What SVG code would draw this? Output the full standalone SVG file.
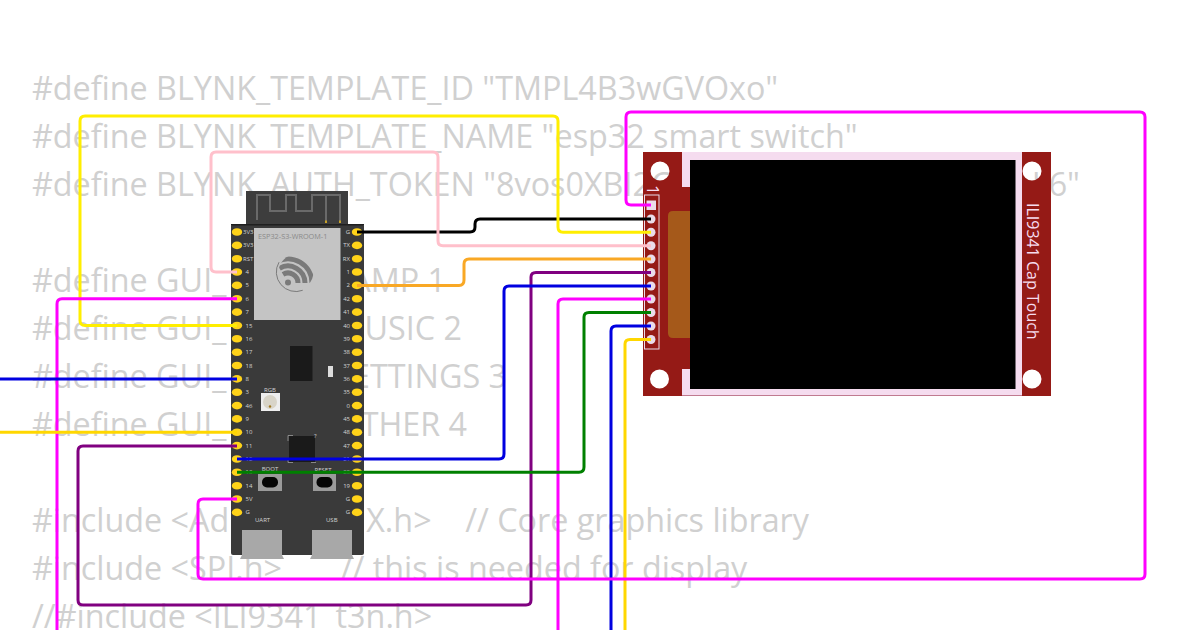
<svg xmlns="http://www.w3.org/2000/svg" width="1200" height="630" viewBox="0 0 1200 630">
<style>
.bg{font-family:"Open Sans","Noto Sans",sans-serif;font-size:32.3px;fill:#d0d0d0;white-space:pre}
.be{text-anchor:end}
.w{fill:none;stroke-width:3;stroke-linejoin:round}
.pin{fill:#ffd319}
.l{font-family:"Open Sans",sans-serif;font-size:6px;fill:#d4d4d4}
.e{text-anchor:end}
.m{text-anchor:middle}
.dp{fill:#eadcea}
</style>
<defs><clipPath id="logo-clip"><circle cx="296" cy="272" r="17.500"/></clipPath></defs>
<rect width="1200" height="630" fill="#fff"/>
<g id="source-text">
<text class="bg" x="32" y="100">#define BLYNK_TEMPLATE_ID "TMPL4B3wGVOxo"</text>
<text class="bg" x="32" y="148">#define BLYNK_TEMPLATE_NAME "esp32 smart switch"</text>
<text class="bg" x="32" y="196">#define BLYNK_AUTH_TOKEN "8vos0XBI2C</text>
<text class="bg be" x="1080" y="196">L6"</text>
<text class="bg" x="32" y="292">#define GUI_</text><text class="bg be" x="446" y="292">AMP 1</text>
<text class="bg" x="32" y="340">#define GUI_</text><text class="bg be" x="462" y="340">USIC 2</text>
<text class="bg" x="32" y="388">#define GUI_</text><text class="bg be" x="507" y="388">ETTINGS 3</text>
<text class="bg" x="32" y="436">#define GUI_</text><text class="bg be" x="467" y="436">THER 4</text>
<text class="bg" x="32" y="532">#include &lt;Ad</text><text class="bg be" x="809" y="532">X.h&gt;    // Core graphics library</text>
<text class="bg" x="32" y="580">#include &lt;SPI.h&gt;       // this is needed for display</text>
<text class="bg" x="32" y="628">//#include &lt;ILI9341_t3n.h&gt;</text>
</g>
<g id="esp32-board">
<rect x="246" y="191" width="102" height="36" fill="#3d3d3d"/>
<path d="M257 220V195H270V211H286V195H296V211H312V195H340V222M326 195V222" fill="none" stroke="#6a6a6a" stroke-width="2"/>
<path d="M325 220.500h2v2.500h-2zM339 220.500h2v2.500h-2z" fill="#c9a227"/>
<rect x="231" y="224" width="133" height="331" rx="2" fill="#3a3a3a"/>
<rect x="231" y="224" width="133" height="1.500" fill="#1f1f1f"/>
<rect x="254" y="228" width="86.500" height="92" fill="#c4c4c4"/>
<text x="258" y="239" font-family="Open Sans,sans-serif" font-size="7.300" fill="#8a8a8a">ESP32-S3-WROOM-1</text>
<path d="M279 262.200A19.500 19.500 0 0 0 302.700 290.300" fill="none" stroke="#7a7a7a" stroke-width="1"/>
<g clip-path="url(#logo-clip)" fill="none" stroke="#7a7a7a" stroke-width="5">
<path d="M283 274.300A10 10 0 0 1 298 283M279.500 268.300A17 17 0 0 1 305 283M276 262.200A24 24 0 0 1 312 283"/>
</g>
<circle cx="288" cy="282.500" r="3" fill="#7a7a7a"/>
<rect x="290" y="346" width="22.500" height="35" fill="#1a1a1a"/>
<rect x="328" y="366" width="5" height="11" fill="#ddd"/>
<text class="l m" x="270" y="392">RGB</text>
<rect x="261" y="393" width="19" height="18" fill="#eee"/>
<circle cx="270" cy="402" r="7" fill="#d8d4c8"/><circle cx="270" cy="406.500" r="1.200" fill="#a07820"/>
<rect x="289" y="436" width="26" height="26" fill="#1a1a1a"/>
<path d="M288 441V435.500H293M311 462.500H316M288 458V462.500H293" fill="none" stroke="#aaa" stroke-width=".7"/>
<text class="l" x="314" y="438">?</text>
<text class="l m" x="270" y="471">BOOT</text>
<text class="l m" x="323" y="472">RESET</text>
<g fill="#9a9a9a"><rect x="258" y="474" width="24" height="17"/><rect x="313" y="474" width="23" height="17"/></g>
<g fill="#050505"><rect x="262" y="477" width="16" height="10.500" rx="5"/><rect x="316.500" y="477" width="16" height="10.500" rx="5"/></g>
<text class="l" x="255" y="522">UART</text>
<text class="l" x="326" y="522">USB</text>
<path d="M242 530H282V555L284 559H240L242 555Z" fill="#a8a8a8"/>
<path d="M312 530H352V555L354 559H310L312 555Z" fill="#a8a8a8"/>
<g class="pin">
<ellipse cx="237" cy="232" rx="5.200" ry="3.800"/><ellipse cx="237" cy="245.400" rx="5.200" ry="3.800"/><ellipse cx="237" cy="258.700" rx="5.200" ry="3.800"/><ellipse cx="237" cy="272" rx="5.200" ry="3.800"/><ellipse cx="237" cy="285.400" rx="5.200" ry="3.800"/><ellipse cx="237" cy="298.800" rx="5.200" ry="3.800"/><ellipse cx="237" cy="312.100" rx="5.200" ry="3.800"/><ellipse cx="237" cy="325.500" rx="5.200" ry="3.800"/><ellipse cx="237" cy="338.800" rx="5.200" ry="3.800"/><ellipse cx="237" cy="352.200" rx="5.200" ry="3.800"/><ellipse cx="237" cy="365.500" rx="5.200" ry="3.800"/><ellipse cx="237" cy="378.900" rx="5.200" ry="3.800"/><ellipse cx="237" cy="392.200" rx="5.200" ry="3.800"/><ellipse cx="237" cy="405.600" rx="5.200" ry="3.800"/><ellipse cx="237" cy="418.900" rx="5.200" ry="3.800"/><ellipse cx="237" cy="432.300" rx="5.200" ry="3.800"/><ellipse cx="237" cy="445.600" rx="5.200" ry="3.800"/><ellipse cx="237" cy="459" rx="5.200" ry="3.800"/><ellipse cx="237" cy="472.300" rx="5.200" ry="3.800"/><ellipse cx="237" cy="485.700" rx="5.200" ry="3.800"/><ellipse cx="237" cy="499" rx="5.200" ry="3.800"/><ellipse cx="237" cy="512.400" rx="5.200" ry="3.800"/>
<ellipse cx="357" cy="232" rx="5.200" ry="3.800"/><ellipse cx="357" cy="245.400" rx="5.200" ry="3.800"/><ellipse cx="357" cy="258.700" rx="5.200" ry="3.800"/><ellipse cx="357" cy="272" rx="5.200" ry="3.800"/><ellipse cx="357" cy="285.400" rx="5.200" ry="3.800"/><ellipse cx="357" cy="298.800" rx="5.200" ry="3.800"/><ellipse cx="357" cy="312.100" rx="5.200" ry="3.800"/><ellipse cx="357" cy="325.500" rx="5.200" ry="3.800"/><ellipse cx="357" cy="338.800" rx="5.200" ry="3.800"/><ellipse cx="357" cy="352.200" rx="5.200" ry="3.800"/><ellipse cx="357" cy="365.500" rx="5.200" ry="3.800"/><ellipse cx="357" cy="378.900" rx="5.200" ry="3.800"/><ellipse cx="357" cy="392.200" rx="5.200" ry="3.800"/><ellipse cx="357" cy="405.600" rx="5.200" ry="3.800"/><ellipse cx="357" cy="418.900" rx="5.200" ry="3.800"/><ellipse cx="357" cy="432.300" rx="5.200" ry="3.800"/><ellipse cx="357" cy="445.600" rx="5.200" ry="3.800"/><ellipse cx="357" cy="459" rx="5.200" ry="3.800"/><ellipse cx="357" cy="472.300" rx="5.200" ry="3.800"/><ellipse cx="357" cy="485.700" rx="5.200" ry="3.800"/><ellipse cx="357" cy="499" rx="5.200" ry="3.800"/><ellipse cx="357" cy="512.400" rx="5.200" ry="3.800"/>
</g>
<g class="l">
<text x="243" y="234">3V3</text><text x="243" y="247.400">3V3</text><text x="243" y="260.700">RST</text><text x="245.500" y="274">4</text><text x="245.500" y="287.400">5</text><text x="245.500" y="300.800">6</text><text x="245.500" y="314.100">7</text><text x="245.500" y="327.500">15</text><text x="245.500" y="340.800">16</text><text x="245.500" y="354.200">17</text><text x="245.500" y="367.500">18</text><text x="245.500" y="380.900">8</text><text x="245.500" y="394.200">3</text><text x="245.500" y="407.600">46</text><text x="245.500" y="420.900">9</text><text x="245.500" y="434.300">10</text><text x="245.500" y="447.600">11</text><text x="245.500" y="461">12</text><text x="245.500" y="474.300">13</text><text x="245.500" y="487.700">14</text><text x="245.500" y="501">5V</text><text x="245.500" y="514.400">G</text>
</g>
<g class="l e">
<text x="350" y="234">G</text><text x="350" y="247.400">TX</text><text x="350" y="260.700">RX</text><text x="350" y="274">1</text><text x="350" y="287.400">2</text><text x="350" y="300.800">42</text><text x="350" y="314.100">41</text><text x="350" y="327.500">40</text><text x="350" y="340.800">39</text><text x="350" y="354.200">38</text><text x="350" y="367.500">37</text><text x="350" y="380.900">36</text><text x="350" y="394.200">35</text><text x="350" y="407.600">0</text><text x="350" y="420.900">45</text><text x="350" y="434.300">48</text><text x="350" y="447.600">47</text><text x="350" y="461">21</text><text x="350" y="474.300">20</text><text x="350" y="487.700">19</text><text x="350" y="501">G</text><text x="350" y="514.400">G</text>
</g>
</g>
<g id="tft-display">
<path fill="#951a16" fill-rule="evenodd" d="M643 152H1051V396H643Z M650.500 171a9.500 9.500 0 1 0 19 0a9.500 9.500 0 1 0 -19 0Z M650 379a9.500 9.500 0 1 0 19 0a9.500 9.500 0 1 0 -19 0Z M1022.500 171a9.500 9.500 0 1 0 19 0a9.500 9.500 0 1 0 -19 0Z M1022.500 379a9.500 9.500 0 1 0 19 0a9.500 9.500 0 1 0 -19 0Z"/>
<path fill="#f5dcef" d="M682 152H1022V396H682V369H690V187H682Z"/>
<rect x="682" y="395" width="340" height="1" fill="#c07a90"/>
<rect x="690" y="160" width="325.500" height="229" fill="#000"/>
<path fill="#a5591a" d="M690 211H673Q668 211 668 216V333Q668 338 673 338H690Z"/>
<rect x="644.500" y="195" width="14.500" height="154" fill="none" stroke="#eadcea"/>
<text x="647" y="185" font-family="Open Sans,sans-serif" font-size="17" fill="#f5dcef" transform="rotate(90 647 185)">1</text>
<g class="dp"><rect x="646.500" y="200.500" width="9.500" height="9.500"/><circle cx="651" cy="219" r="4.500"/><circle cx="651" cy="232.300" r="4.500"/><circle cx="651" cy="245.700" r="4.500"/><circle cx="651" cy="259" r="4.500"/><circle cx="651" cy="272.500" r="4.500"/><circle cx="651" cy="286" r="4.500"/><circle cx="651" cy="299" r="4.500"/><circle cx="651" cy="312.500" r="4.500"/><circle cx="651" cy="326" r="4.500"/><circle cx="651" cy="339.500" r="4.500"/></g>
<text x="1027" y="203" font-family="Open Sans,sans-serif" font-size="16" fill="#f5dcef" transform="rotate(90 1027 203)">ILI9341 Cap Touch</text>
</g>
<g id="connectors">
<path class="w" stroke="#000" d="M357 232H470Q475 232 475 227V224Q475 219 480 219H651"/>
<path class="w" stroke="#ffee00" d="M651 232.300H563Q558 232.300 558 227V121Q558 116 553 116H85Q80 116 80 121V320.500Q80 325.500 85 325.500H237"/>
<path class="w" stroke="#ffc0cb" d="M651 245.700H443Q438 245.700 438 241V157Q438 152 433 152H216Q211 152 211 157V267Q211 272 216 272H237"/>
<path class="w" stroke="#f9a825" d="M357 285.400H459Q464 285.400 464 280V264Q464 259 469 259H651"/>
<path class="w" stroke="#800080" d="M651 272.500H536Q531 272.500 531 277V600Q531 605 526 605H83Q78 605 78 600V451Q78 446 83 446H237"/>
<path class="w" stroke="#0000e0" d="M651 286H509Q504 286 504 291V454Q504 459 499 459H237"/>
<path class="w" stroke="#ff00ff" d="M651 299H563Q558 299 558 304V630"/>
<path class="w" stroke="#008000" d="M651 312.500H589Q584 312.500 584 317V467Q584 472.300 579 472.300H237"/>
<path class="w" stroke="#0000e0" d="M651 326H616Q611 326 611 331V630"/>
<path class="w" stroke="#ffd700" d="M651 339.500H630Q625 339.500 625 344V630"/>
<path class="w" stroke="#ff00ff" d="M651 205H631Q626 205 626 200V117Q626 112 631 112H1140Q1145 112 1145 117V574Q1145 579 1140 579H203Q198 579 198 574V504Q198 499 203 499H237"/>
<path class="w" stroke="#ff00ff" d="M237 298.800H62Q57 298.800 57 304V630"/>
<path class="w" stroke="#0000e0" d="M0 379H237"/>
<path class="w" stroke="#ffd700" d="M0 432.300H237"/>
</g>
</svg>
